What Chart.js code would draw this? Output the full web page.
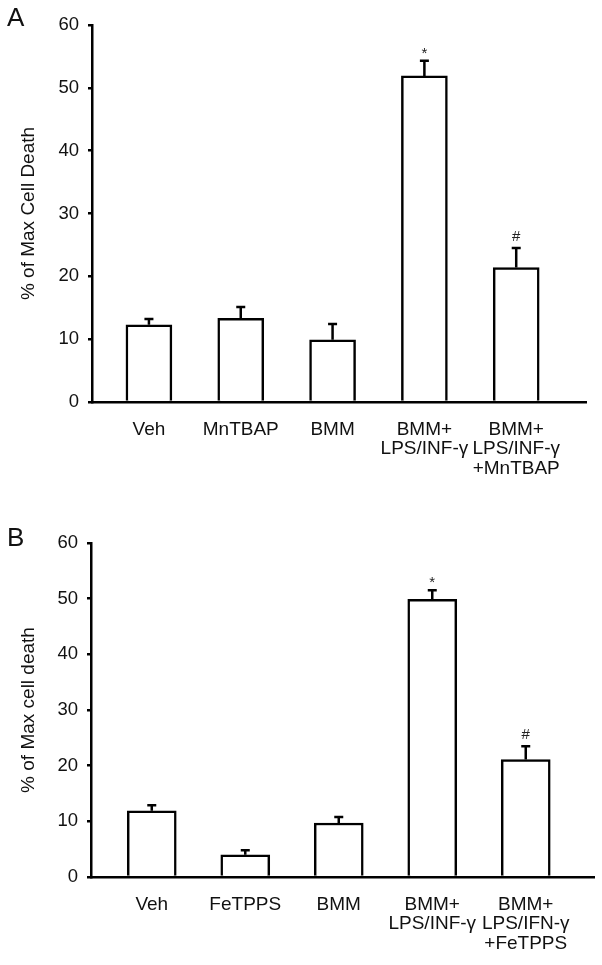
<!DOCTYPE html>
<html>
<head>
<meta charset="utf-8">
<script src="https://cdn.jsdelivr.net/npm/chart.js@4.4.1/dist/chart.umd.min.js"></script>
<style>
  html, body { margin: 0; padding: 0; background: #fff; }
  body { width: 602px; height: 965px; position: relative; overflow: hidden; font-family: "Liberation Sans", Arial, sans-serif; }
  .panel { position: absolute; left: 0; width: 602px; }
  #panelA { top: 0; height: 480px; }
  #panelB { top: 480px; height: 485px; }
  .tag { position: absolute; left: 7px; font-size: 26px; line-height: 1; color: #111; }
</style>
</head>
<body>
<div class="panel" id="panelA"><canvas id="chartA"></canvas></div>
<div class="panel" id="panelB"><canvas id="chartB"></canvas></div>
<div class="tag" style="top:4px">A</div>
<div class="tag" style="top:524px">B</div>
<script>
// Panel A — MnTBAP
const labelsA = ['Veh', 'MnTBAP', 'BMM', ['BMM+', 'LPS/INF-γ'], ['BMM+', 'LPS/INF-γ', '+MnTBAP']];
const valuesA = [12.3, 13.3, 9.9, 51.9, 21.4];
const errorsA = [0.9, 1.8, 2.5, 2.4, 3.1];
const marksA = ['', '', '', '*', '#'];

// Panel B — FeTPPS
const labelsB = ['Veh', 'FeTPPS', 'BMM', ['BMM+', 'LPS/INF-γ'], ['BMM+', 'LPS/IFN-γ', '+FeTPPS']];
const valuesB = [11.9, 4.0, 9.7, 49.9, 21.1];
const errorsB = [1.0, 0.8, 1.1, 1.6, 2.4];
const marksB = ['', '', '', '*', '#'];

const yTicks = [0, 10, 20, 30, 40, 50, 60];

const INK = '#111';
const FONT = '"Liberation Sans", Arial, sans-serif';

// upper-only error bars plus the significance marks
const errorBars = {
  id: 'errorBars',
  afterDatasetsDraw(chart, args, opts) {
    const { ctx } = chart;
    const y = chart.scales.y;
    const meta = chart.getDatasetMeta(0);
    ctx.save();
    ctx.strokeStyle = '#000';
    ctx.lineWidth = 2.5;
    ctx.fillStyle = '#222';
    ctx.font = `15px ${FONT}`;
    ctx.textAlign = 'center';
    ctx.textBaseline = 'alphabetic';
    meta.data.forEach((bar, i) => {
      const top = y.getPixelForValue(opts.values[i] + opts.errors[i]);
      ctx.beginPath();
      ctx.moveTo(bar.x, bar.y);
      ctx.lineTo(bar.x, top);
      ctx.moveTo(bar.x - 4.5, top);
      ctx.lineTo(bar.x + 4.5, top);
      ctx.stroke();
      const mark = opts.marks[i];
      if (mark) {
        const m = ctx.measureText(mark);
        ctx.fillText(mark, bar.x, top - 7 - m.actualBoundingBoxDescent);
      }
    });
    ctx.restore();
  }
};

function makePanel(id, p) {
  return new Chart(document.getElementById(id), {
    type: 'bar',
    data: {
      datasets: [{
        data: p.values.map((v, i) => ({ x: i, y: v })),
        backgroundColor: '#fff',
        borderColor: '#000',
        borderWidth: 2.5,
        barThickness: p.barThickness
      }]
    },
    options: {
      responsive: true,
      maintainAspectRatio: false,
      animation: false,
      layout: { padding: { top: p.top, right: 602 - p.right, left: 0, bottom: 0 } },
      plugins: {
        legend: { display: false },
        tooltip: { enabled: false },
        errorBars: { values: p.values, errors: p.errors, marks: p.marks }
      },
      scales: {
        x: {
          type: 'linear',
          offset: false,
          min: p.xMin, max: p.xMax,
          afterBuildTicks: s => { s.ticks = p.labels.map((_, i) => ({ value: i })); },
          afterFit: s => { s.height = p.height - p.bottom; },
          grid: { display: false, drawTicks: false, offset: false },
          border: { display: true, color: '#000', width: 2.5 },
          ticks: {
            autoSkip: false, maxRotation: 0, minRotation: 0, padding: 18,
            color: INK, font: { family: FONT, size: 19, lineHeight: 1.02 },
            callback: v => p.labels[v]
          }
        },
        y: {
          min: 0, max: 60,
          afterBuildTicks: s => { s.ticks = yTicks.map(v => ({ value: v })); },
          afterFit: s => { s.width = p.left; },
          grid: { display: true, drawOnChartArea: false, drawTicks: true, tickLength: 4, color: '#000', lineWidth: 2.5 },
          border: { display: true, color: '#000', width: 2.5 },
          ticks: { padding: 9, color: INK, font: { family: FONT, size: 18.5 } },
          title: {
            display: true, text: p.title, color: INK,
            font: { family: FONT, size: 19 }, padding: { top: 17, bottom: 0 }
          }
        }
      }
    },
    plugins: [errorBars]
  });
}

makePanel('chartA', {
  labels: labelsA, values: valuesA, errors: errorsA, marks: marksA,
  title: '% of Max Cell Death',
  left: 92, right: 586, top: 25, bottom: 402, height: 480,
  xMin: -0.62, xMax: 4.76, barThickness: 46
});

makePanel('chartB', {
  labels: labelsB, values: valuesB, errors: errorsB, marks: marksB,
  title: '% of Max cell death',
  left: 91, right: 594, top: 63, bottom: 397, height: 485,
  xMin: -0.65, xMax: 4.73, barThickness: 49
});
</script>
</body>
</html>
